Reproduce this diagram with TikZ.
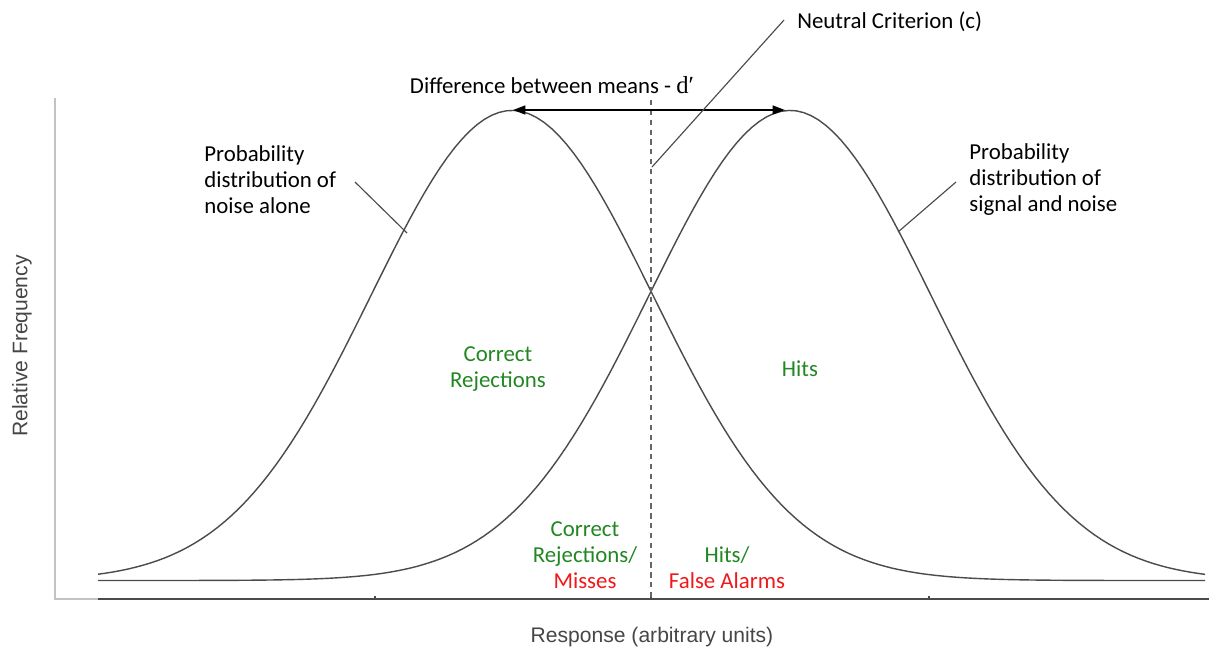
\documentclass[tikz,border=0pt]{standalone}
\usepackage{fontspec}
\setmainfont{Carlito}
\newfontfamily\arialfont{Liberation Sans}
\newfontfamily\timesfont{Liberation Serif}
\usepackage{xcolor}
\usepackage{tikz}
\usetikzlibrary{calc, positioning, arrows.meta}

\definecolor{okgreen}{RGB}{34,135,34}
\definecolor{badred}{RGB}{240,25,25}
\definecolor{curvegray}{RGB}{75,75,75}
\definecolor{axisgray}{RGB}{195,195,195}
\definecolor{textgray}{RGB}{70,70,70}

\begin{document}
\begin{tikzpicture}[>={Triangle[length=7pt,width=5pt]}, x=0.02cm, y=-0.02cm,
    lbl/.style={font=\fontsize{13}{14.8}\selectfont, inner sep=0pt},
    region/.style={lbl, align=center, text=okgreen},
    axislbl/.style={font=\arialfont\fontsize{12}{14}\selectfont, text=textgray, inner sep=0pt},
    leader/.style={curvegray, line width=0.65pt},
    curve/.style={curvegray, line width=0.8pt, samples=150, domain=98:1205}]

    \useasboundingbox (0,0) rectangle (1209,654);

    % =================================================================
    % 1. TRUC TOA DO
    % =================================================================
    \draw[axisgray, line width=0.8pt] (55,98) -- (55,599) -- (98,599);
    \draw[curvegray, line width=0.9pt] (98,599) -- (1209,599);
    \foreach \t in {375, 651, 929} \draw[curvegray, line width=0.6pt] (\t,599) -- (\t,596);

    \node[axislbl, rotate=90] (yname) at (22,346) {Relative Frequency};
    \node[axislbl] (xname) at (652,637) {Response (arbitrary units)};

    % =================================================================
    % 2. HAI DUONG PHAN PHOI
    % =================================================================
    % nhieu (noise), trung binh x = 512
    \draw[curve] plot (\x, {580.5-470*exp(-0.5*((\x-512)/141)^2)});
    % tin hieu + nhieu (signal), trung binh x = 790
    \draw[curve] plot (\x, {580.5-470*exp(-0.5*((\x-790)/141)^2)});

    % Tieu chi trung lap
    \draw[curvegray!85, line width=0.6pt, dash pattern=on 3pt off 2.6pt] (651,100) -- (651,599);

    % =================================================================
    % 3. NHAN VA DUONG CHI DAN
    % =================================================================
    \coordinate (noisemean) at (513,110);
    \coordinate (signalmean) at (785,110);
    \draw[<->, line width=1.1pt] (noisemean) -- (signalmean);
    \node[lbl] (dprime) at (552,85) {Difference between means - {\timesfont\fontsize{14}{14}\selectfont d′}};

    \node[lbl, anchor=west] (crit) at (797,22) {Neutral Criterion (c)};
    \coordinate (critfoot) at (652,167);
    \coordinate (critend) at (784,20);
    \draw[leader] (critfoot) -- (critend);

    \node[lbl, anchor=west, align=left] (noiselbl) at (204,180)
        {Probability\\distribution of\\noise alone};
    \coordinate (noisefrom) at (355,182);
    \coordinate (noiseon) at (407,233);
    \draw[leader] (noisefrom) -- (noiseon);

    \node[lbl, anchor=west, align=left] (signallbl) at (969,180)
        {Probability\\distribution of\\signal and noise};
    \coordinate (signalfrom) at (956,182);
    \coordinate (signalon) at (898,232);
    \draw[leader] (signalfrom) -- (signalon);

    % Cac vung
    \node[region] (crej) at (498,369) {Correct\\Rejections};
    \node[region] (hits) at (800,369) {Hits};
    \node[region] (crejmiss) at (585,555)
        {Correct\\Rejections/\\\textcolor{badred}{Misses}};
    \node[region] (hitsfa) at (727,568)
        {Hits/\\\textcolor{badred}{False Alarms}};

\end{tikzpicture}
\end{document}
